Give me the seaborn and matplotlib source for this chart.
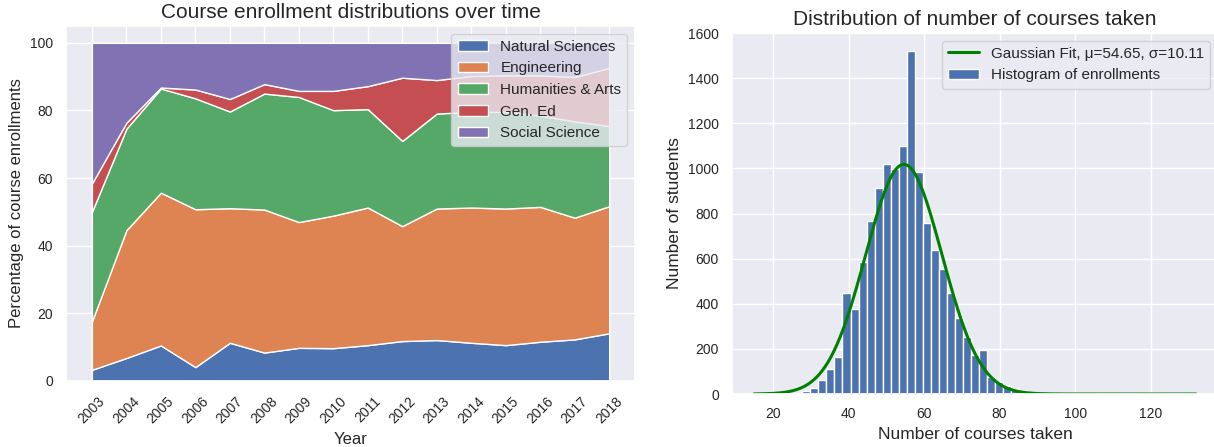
import numpy as np
import pandas as pd
import seaborn as sns
from matplotlib import pyplot as plt

# course enrollment shares (%) per year
years = list(range(2003, 2019))
natural_sciences = [3.3, 6.8, 10.5, 4.1, 11.3, 8.4, 9.8, 9.7, 10.6, 11.8, 12.1, 11.3, 10.6, 11.6, 12.3, 14.1]
engineering = [14.3, 37.8, 45.2, 46.7, 39.8, 42.3, 37.2, 39.2, 40.7, 34.0, 38.9, 40.0, 40.4, 39.9, 36.0, 37.6]
humanities_arts = [32.4, 30.0, 30.8, 32.8, 28.6, 34.3, 37.0, 31.2, 29.1, 25.2, 28.1, 28.3, 28.6, 27.0, 28.5, 23.7]
gen_ed = [8.4, 1.8, 0.3, 2.6, 3.7, 2.8, 1.8, 5.7, 6.8, 18.7, 9.9, 10.6, 10.8, 11.9, 13.1, 17.2]
social_science = [41.6, 23.6, 13.2, 13.8, 16.6, 12.2, 14.2, 14.2, 12.8, 10.3, 11.0, 9.8, 9.6, 9.6, 10.1, 7.4]
area_names = ['Natural Sciences', 'Engineering', 'Humanities & Arts', 'Gen. Ed', 'Social Science']

# histogram of courses taken per student
course_min = 15
course_max = 132
n_bins = 55
hist_counts = [1, 0, 0, 0, 2, 4, 15, 27, 62, 109, 165, 448, 379, 587, 768, 912, 1021, 996, 1099,
               1519, 985, 757, 639, 556, 448, 336, 254, 173, 193, 74, 52, 37, 22, 12, 6, 4, 2, 1,
               0, 0, 0, 0, 0, 0, 0, 0, 0, 0, 0, 0, 0, 0, 0, 0, 1]
fit_mu = 54.65
fit_sigma = 10.11
fit_peak = 1018

sns.set_theme(style='darkgrid')
plt.rcParams['font.family'] = ['Liberation Sans', 'DejaVu Sans']
palette = sns.color_palette('deep')

fig = plt.figure(figsize=(12.14, 4.47), dpi=100)
ax1 = fig.add_axes([0.0544, 0.1477, 0.4687, 0.7942])
ax2 = fig.add_axes([0.603, 0.1185, 0.4003, 0.8076])

# left: stacked area
ax1.stackplot(years, natural_sciences, engineering, humanities_arts, gen_ed, social_science,
              labels=area_names, colors=palette[:5], edgecolor='white', linewidth=1)
ax1.set_xticks(years)
ax1.set_xticklabels(years, rotation=45)
ax1.tick_params(labelsize=10)
ax1.set_xlabel('Year', fontsize=12)
ax1.set_ylabel('Percentage of course enrollments', fontsize=12)
ax1.set_title('Course enrollment distributions over time', fontsize=15)
ax1.legend(loc='upper right', fontsize=11)

# right: histogram + gaussian fit
bin_edges = np.linspace(course_min, course_max, n_bins + 1).tolist()
bin_centers = [(a + b) / 2 for a, b in zip(bin_edges[:-1], bin_edges[1:])]
hist_df = pd.DataFrame({'courses': bin_centers, 'count': hist_counts})

xs = np.linspace(course_min, course_max, 300)
ys = fit_peak * np.exp(-(xs - fit_mu) ** 2 / (2 * fit_sigma ** 2))
sns.lineplot(x=xs, y=ys, color='green', linewidth=2.2, ax=ax2,
             label='Gaussian Fit, \u03bc=%.2f, \u03c3=%.2f' % (fit_mu, fit_sigma))
sns.histplot(data=hist_df, x='courses', weights='count', bins=bin_edges, color=palette[0],
             alpha=1, edgecolor='white', linewidth=1, ax=ax2, label='Histogram of enrollments')
ax2.set_ylim(0, 1600)
ax2.tick_params(labelsize=10)
ax2.set_xlabel('Number of courses taken', fontsize=12.5)
ax2.set_ylabel('Number of students', fontsize=12.5)
ax2.set_title('Distribution of number of courses taken', fontsize=15)
ax2.legend(loc='upper right', fontsize=11)

plt.savefig('out.png', dpi=100)
